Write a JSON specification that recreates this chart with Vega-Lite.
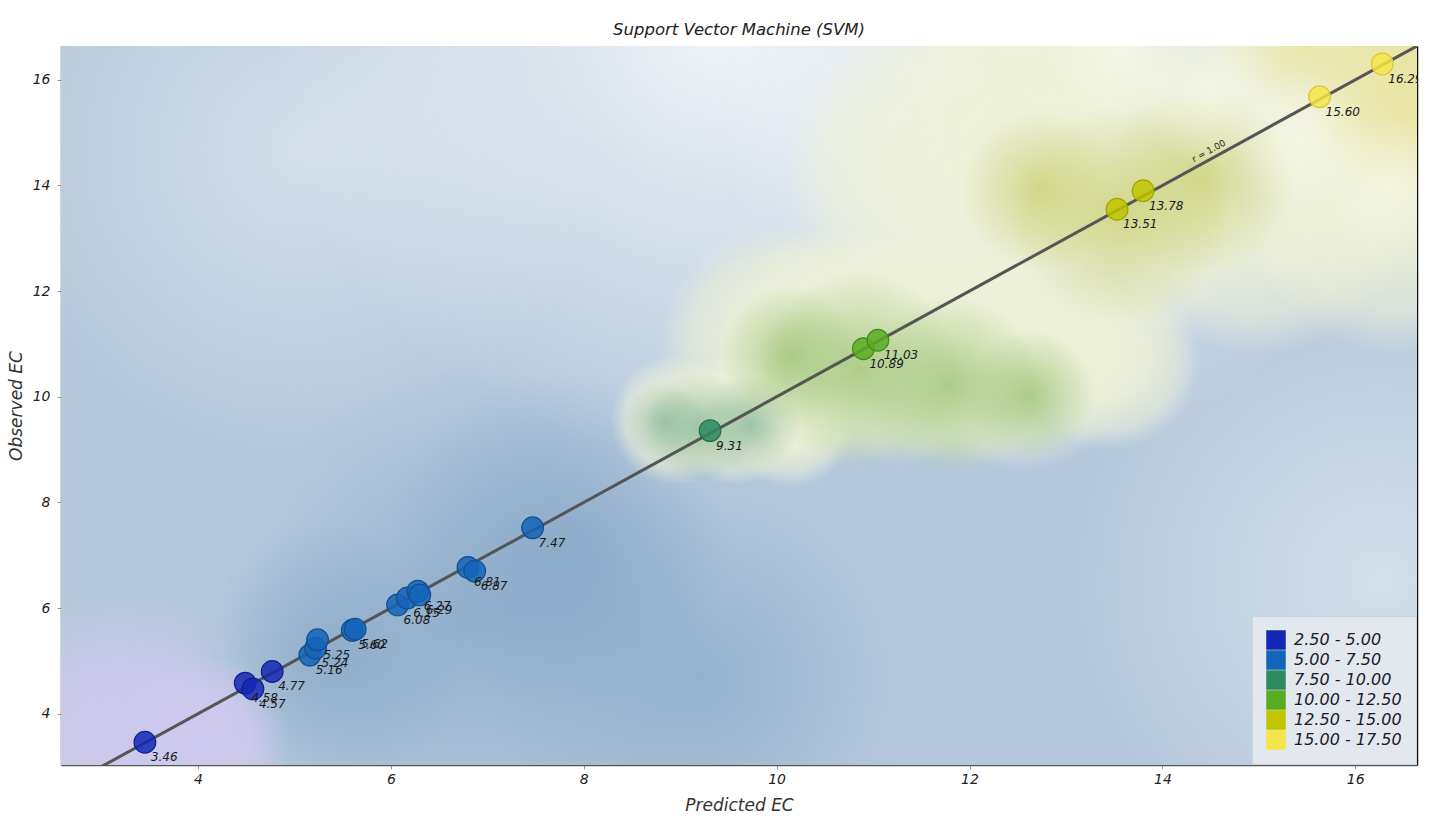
{
  "$schema": "https://vega.github.io/schema/vega-lite/v6.json",
  "width": 1356,
  "height": 719,
  "autosize": {"type": "none"},
  "padding": {"left": 61, "top": 46, "right": 14, "bottom": 53},
  "background": "white",
  "title": {"text": "Support Vector Machine (SVM)", "font": "DejaVu Sans", "fontStyle": "italic", "fontWeight": "normal", "fontSize": 16.5, "color": "#222222", "offset": 8},
  "config": {
    "view": {"stroke": null},
    "axis": {"labelFont": "DejaVu Sans", "titleFont": "DejaVu Sans", "labelFontStyle": "italic", "titleFontStyle": "italic", "titleFontWeight": "normal", "labelColor": "#222222", "titleColor": "#333333", "labelFontSize": 14, "titleFontSize": 17, "grid": false, "domainColor": "#555555", "domainWidth": 1.5, "tickColor": "#999999", "tickSize": 4},
    "legend": {"labelFont": "DejaVu Sans", "labelFontStyle": "italic"}
  },
  "datasets": {
    "blobs": [
      {"k": "base", "x1": 2.58, "x2": 16.64, "y1": 3.03, "y2": 16.64},
      {"k": "light2", "x1": 13.146, "x2": 19.367, "y1": 0.853, "y2": 12.211},
      {"k": "light2", "x1": 1.947, "x2": 8.169, "y1": 8.993, "y2": 20.35},
      {"k": "light", "x1": 4.747, "x2": 14.079, "y1": 8.614, "y2": 25.65},
      {"k": "light", "x1": 9.413, "x2": 16.257, "y1": 8.993, "y2": 21.486},
      {"k": "dark", "x1": 4.229, "x2": 9.413, "y1": 1.042, "y2": 10.507},
      {"k": "dark", "x1": 6.925, "x2": 11.487, "y1": 0.475, "y2": 8.803},
      {"k": "dark", "x1": 5.991, "x2": 9.517, "y1": 4.071, "y2": 10.507},
      {"k": "dark", "x1": 3.918, "x2": 6.821, "y1": 2.367, "y2": 7.668},
      {"k": "lavender", "x1": 1.533, "x2": 4.851, "y1": 0.096, "y2": 6.153},
      {"k": "lavender", "x1": 3.088, "x2": 4.954, "y1": 1.705, "y2": 5.112},
      {"k": "halo", "x1": 8.273, "x2": 9.621, "y1": 8.33, "y2": 10.791},
      {"k": "halo", "x1": 8.895, "x2": 10.243, "y1": 8.33, "y2": 10.791},
      {"k": "halo", "x1": 9.465, "x2": 10.813, "y1": 8.292, "y2": 10.753},
      {"k": "halo", "x1": 8.791, "x2": 11.28, "y1": 8.709, "y2": 13.252},
      {"k": "halo", "x1": 9.413, "x2": 11.902, "y1": 8.709, "y2": 13.252},
      {"k": "halo", "x1": 10.035, "x2": 12.524, "y1": 8.709, "y2": 13.252},
      {"k": "halo", "x1": 10.657, "x2": 13.146, "y1": 8.652, "y2": 13.195},
      {"k": "halo", "x1": 11.28, "x2": 13.768, "y1": 8.614, "y2": 13.157},
      {"k": "halo", "x1": 12.524, "x2": 14.39, "y1": 8.993, "y2": 12.4},
      {"k": "halo", "x1": 10.087, "x2": 13.405, "y1": 11.264, "y2": 17.321},
      {"k": "halo", "x1": 11.694, "x2": 15.012, "y1": 10.791, "y2": 16.848},
      {"k": "halo", "x1": 13.353, "x2": 16.671, "y1": 10.791, "y2": 16.848},
      {"k": "halo", "x1": 14.805, "x2": 18.123, "y1": 10.791, "y2": 16.848},
      {"k": "halo", "x1": 11.176, "x2": 14.494, "y1": 13.725, "y2": 19.782},
      {"k": "halo", "x1": 13.768, "x2": 17.086, "y1": 13.725, "y2": 19.782},
      {"k": "teal", "x1": 8.636, "x2": 9.776, "y1": 8.368, "y2": 10.45},
      {"k": "teal", "x1": 9.206, "x2": 10.243, "y1": 8.519, "y2": 10.412},
      {"k": "teal", "x1": 8.428, "x2": 9.258, "y1": 8.765, "y2": 10.28},
      {"k": "green", "x1": 9.828, "x2": 11.902, "y1": 8.614, "y2": 12.4},
      {"k": "green", "x1": 10.865, "x2": 12.731, "y1": 8.519, "y2": 11.927},
      {"k": "green", "x1": 9.413, "x2": 10.865, "y1": 9.466, "y2": 12.116},
      {"k": "green", "x1": 11.954, "x2": 13.302, "y1": 8.803, "y2": 11.264},
      {"k": "olive", "x1": 12.42, "x2": 14.701, "y1": 11.359, "y2": 15.523},
      {"k": "olive", "x1": 13.405, "x2": 15.375, "y1": 12.305, "y2": 15.902},
      {"k": "olive", "x1": 11.902, "x2": 13.561, "y1": 12.4, "y2": 15.429},
      {"k": "yellow", "x1": 15.168, "x2": 17.657, "y1": 14.198, "y2": 18.741},
      {"k": "yellow", "x1": 14.598, "x2": 16.257, "y1": 15.334, "y2": 18.362},
      {"k": "yellow", "x1": 15.5, "x2": 17.781, "y1": 13.346, "y2": 17.511},
      {"k": "band", "x1": 12.835, "x2": 14.287, "y1": 15.239, "y2": 17.889},
      {"k": "band", "x1": 13.768, "x2": 15.22, "y1": 14.387, "y2": 17.037},
      {"k": "band", "x1": 14.701, "x2": 16.153, "y1": 13.536, "y2": 16.186},
      {"k": "band", "x1": 15.635, "x2": 17.086, "y1": 12.684, "y2": 15.334}
    ],
    "points": [
      {"pred": 3.45, "obs": 3.46, "label": "3.46", "cls": "2.50 - 5.00"},
      {"pred": 4.49, "obs": 4.58, "label": "4.58", "cls": "2.50 - 5.00"},
      {"pred": 4.57, "obs": 4.47, "label": "4.57", "cls": "2.50 - 5.00"},
      {"pred": 4.77, "obs": 4.8, "label": "4.77", "cls": "2.50 - 5.00"},
      {"pred": 5.16, "obs": 5.11, "label": "5.16", "cls": "5.00 - 7.50"},
      {"pred": 5.22, "obs": 5.24, "label": "5.24", "cls": "5.00 - 7.50"},
      {"pred": 5.24, "obs": 5.4, "label": "5.25", "cls": "5.00 - 7.50"},
      {"pred": 5.6, "obs": 5.58, "label": "5.60", "cls": "5.00 - 7.50"},
      {"pred": 5.63, "obs": 5.6, "label": "5.62", "cls": "5.00 - 7.50"},
      {"pred": 6.07, "obs": 6.06, "label": "6.08", "cls": "5.00 - 7.50"},
      {"pred": 6.17, "obs": 6.19, "label": "6.15", "cls": "5.00 - 7.50"},
      {"pred": 6.28, "obs": 6.32, "label": "6.27", "cls": "5.00 - 7.50"},
      {"pred": 6.3, "obs": 6.25, "label": "6.29", "cls": "5.00 - 7.50"},
      {"pred": 6.8, "obs": 6.77, "label": "6.81", "cls": "5.00 - 7.50"},
      {"pred": 6.87, "obs": 6.7, "label": "6.87", "cls": "5.00 - 7.50"},
      {"pred": 7.47, "obs": 7.52, "label": "7.47", "cls": "5.00 - 7.50"},
      {"pred": 9.31, "obs": 9.36, "label": "9.31", "cls": "7.50 - 10.00"},
      {"pred": 10.9, "obs": 10.91, "label": "10.89", "cls": "10.00 - 12.50"},
      {"pred": 11.05, "obs": 11.07, "label": "11.03", "cls": "10.00 - 12.50"},
      {"pred": 13.53, "obs": 13.55, "label": "13.51", "cls": "12.50 - 15.00"},
      {"pred": 13.8, "obs": 13.9, "label": "13.78", "cls": "12.50 - 15.00"},
      {"pred": 15.63, "obs": 15.68, "label": "15.60", "cls": "15.00 - 17.50"},
      {"pred": 16.28, "obs": 16.3, "label": "16.29", "cls": "15.00 - 17.50"}
    ],
    "fit": [
      {"pred": 2.5, "obs": 2.5},
      {"pred": 17, "obs": 17}
    ],
    "rlabel": [
      {"pred": 14.52, "obs": 14.52, "t": "r = 1.00"}
    ]
  },
  "resolve": {"axis": {"y": "independent"}},
  "layer": [
    {
      "data": {"name": "blobs"},
      "transform": [{"filter": "datum.k == 'base'"}],
      "mark": {"type": "rect", "fill": "#b6c9dc", "clip": true},
      "encoding": {
        "x": {"field": "x1", "type": "quantitative", "scale": {"domain": [2.58, 16.64], "nice": false, "zero": false}, "axis": {"title": "Predicted EC", "values": [4, 6, 8, 10, 12, 14, 16], "format": "d", "labelPadding": 3, "titlePadding": 11}},
        "x2": {"field": "x2"},
        "y": {"field": "y1", "type": "quantitative", "scale": {"domain": [3.03, 16.64], "nice": false, "zero": false}, "axis": {"title": "Observed EC", "values": [4, 6, 8, 10, 12, 14, 16], "format": "d", "labelPadding": 7, "titlePadding": 7}},
        "y2": {"field": "y2"}
      }
    },
    {
      "data": {"name": "blobs"},
      "transform": [{"filter": "datum.k == 'light2'"}],
      "mark": {"type": "rect", "clip": true, "fill": {"gradient": "radial", "x1": 0.5, "y1": 0.5, "r1": 0, "x2": 0.5, "y2": 0.5, "r2": 0.5, "stops": [{"offset": 0, "color": "rgba(255,255,255,0.4)"}, {"offset": 1, "color": "rgba(255,255,255,0)"}]}},
      "encoding": {"x": {"field": "x1", "type": "quantitative"}, "x2": {"field": "x2"}, "y": {"field": "y1", "type": "quantitative", "axis": null}, "y2": {"field": "y2"}}
    },
    {
      "data": {"name": "blobs"},
      "transform": [{"filter": "datum.k == 'light'"}],
      "mark": {"type": "rect", "clip": true, "fill": {"gradient": "radial", "x1": 0.5, "y1": 0.5, "r1": 0, "x2": 0.5, "y2": 0.5, "r2": 0.5, "stops": [{"offset": 0, "color": "rgba(255,255,255,0.8)"}, {"offset": 1, "color": "rgba(255,255,255,0)"}]}},
      "encoding": {"x": {"field": "x1", "type": "quantitative"}, "x2": {"field": "x2"}, "y": {"field": "y1", "type": "quantitative", "axis": null}, "y2": {"field": "y2"}}
    },
    {
      "data": {"name": "blobs"},
      "transform": [{"filter": "datum.k == 'dark'"}],
      "mark": {"type": "rect", "clip": true, "fill": {"gradient": "radial", "x1": 0.5, "y1": 0.5, "r1": 0, "x2": 0.5, "y2": 0.5, "r2": 0.5, "stops": [{"offset": 0, "color": "rgba(122,159,194,0.55)"}, {"offset": 1, "color": "rgba(122,159,194,0)"}]}},
      "encoding": {"x": {"field": "x1", "type": "quantitative"}, "x2": {"field": "x2"}, "y": {"field": "y1", "type": "quantitative", "axis": null}, "y2": {"field": "y2"}}
    },
    {
      "data": {"name": "blobs"},
      "transform": [{"filter": "datum.k == 'lavender'"}],
      "mark": {"type": "rect", "clip": true, "fill": {"gradient": "radial", "x1": 0.5, "y1": 0.5, "r1": 0, "x2": 0.5, "y2": 0.5, "r2": 0.5, "stops": [{"offset": 0, "color": "rgba(206,201,238,0.95)"}, {"offset": 0.55, "color": "rgba(206,201,238,0.85)"}, {"offset": 1, "color": "rgba(206,201,238,0)"}]}},
      "encoding": {"x": {"field": "x1", "type": "quantitative"}, "x2": {"field": "x2"}, "y": {"field": "y1", "type": "quantitative", "axis": null}, "y2": {"field": "y2"}}
    },
    {
      "data": {"name": "blobs"},
      "transform": [{"filter": "datum.k == 'halo'"}],
      "mark": {"type": "rect", "clip": true, "fill": {"gradient": "radial", "x1": 0.5, "y1": 0.5, "r1": 0, "x2": 0.5, "y2": 0.5, "r2": 0.5, "stops": [{"offset": 0, "color": "rgba(238,241,216,0.92)"}, {"offset": 0.4, "color": "rgba(238,241,216,0.86)"}, {"offset": 0.75, "color": "rgba(238,241,216,0.55)"}, {"offset": 1, "color": "rgba(238,241,216,0)"}]}},
      "encoding": {"x": {"field": "x1", "type": "quantitative"}, "x2": {"field": "x2"}, "y": {"field": "y1", "type": "quantitative", "axis": null}, "y2": {"field": "y2"}}
    },
    {
      "data": {"name": "blobs"},
      "transform": [{"filter": "datum.k == 'teal'"}],
      "mark": {"type": "rect", "clip": true, "fill": {"gradient": "radial", "x1": 0.5, "y1": 0.5, "r1": 0, "x2": 0.5, "y2": 0.5, "r2": 0.5, "stops": [{"offset": 0, "color": "rgba(150,190,160,0.9)"}, {"offset": 1, "color": "rgba(150,190,160,0)"}]}},
      "encoding": {"x": {"field": "x1", "type": "quantitative"}, "x2": {"field": "x2"}, "y": {"field": "y1", "type": "quantitative", "axis": null}, "y2": {"field": "y2"}}
    },
    {
      "data": {"name": "blobs"},
      "transform": [{"filter": "datum.k == 'green'"}],
      "mark": {"type": "rect", "clip": true, "fill": {"gradient": "radial", "x1": 0.5, "y1": 0.5, "r1": 0, "x2": 0.5, "y2": 0.5, "r2": 0.5, "stops": [{"offset": 0, "color": "rgba(160,198,122,0.85)"}, {"offset": 1, "color": "rgba(160,198,122,0)"}]}},
      "encoding": {"x": {"field": "x1", "type": "quantitative"}, "x2": {"field": "x2"}, "y": {"field": "y1", "type": "quantitative", "axis": null}, "y2": {"field": "y2"}}
    },
    {
      "data": {"name": "blobs"},
      "transform": [{"filter": "datum.k == 'olive'"}],
      "mark": {"type": "rect", "clip": true, "fill": {"gradient": "radial", "x1": 0.5, "y1": 0.5, "r1": 0, "x2": 0.5, "y2": 0.5, "r2": 0.5, "stops": [{"offset": 0, "color": "rgba(206,212,130,0.9)"}, {"offset": 1, "color": "rgba(206,212,130,0)"}]}},
      "encoding": {"x": {"field": "x1", "type": "quantitative"}, "x2": {"field": "x2"}, "y": {"field": "y1", "type": "quantitative", "axis": null}, "y2": {"field": "y2"}}
    },
    {
      "data": {"name": "blobs"},
      "transform": [{"filter": "datum.k == 'yellow'"}],
      "mark": {"type": "rect", "clip": true, "fill": {"gradient": "radial", "x1": 0.5, "y1": 0.5, "r1": 0, "x2": 0.5, "y2": 0.5, "r2": 0.5, "stops": [{"offset": 0, "color": "rgba(235,229,156,0.8)"}, {"offset": 1, "color": "rgba(235,229,156,0)"}]}},
      "encoding": {"x": {"field": "x1", "type": "quantitative"}, "x2": {"field": "x2"}, "y": {"field": "y1", "type": "quantitative", "axis": null}, "y2": {"field": "y2"}}
    },
    {
      "data": {"name": "blobs"},
      "transform": [{"filter": "datum.k == 'band'"}],
      "mark": {"type": "rect", "clip": true, "fill": {"gradient": "radial", "x1": 0.5, "y1": 0.5, "r1": 0, "x2": 0.5, "y2": 0.5, "r2": 0.5, "stops": [{"offset": 0, "color": "rgba(250,250,238,0.55)"}, {"offset": 1, "color": "rgba(250,250,238,0)"}]}},
      "encoding": {"x": {"field": "x1", "type": "quantitative"}, "x2": {"field": "x2"}, "y": {"field": "y1", "type": "quantitative", "axis": null}, "y2": {"field": "y2"}}
    },
    {
      "data": {"name": "fit"},
      "mark": {"type": "line", "color": "#555555", "strokeWidth": 3, "clip": true},
      "encoding": {"x": {"field": "pred", "type": "quantitative"}, "y": {"field": "obs", "type": "quantitative", "axis": {"orient": "right", "labels": false, "ticks": false, "title": null, "domainColor": "#111111", "domainWidth": 1.5}}}
    },
    {
      "data": {"name": "points"},
      "mark": {"type": "circle", "size": 470, "fillOpacity": 0.85, "strokeWidth": 1.2, "opacity": 1},
      "encoding": {
        "x": {"field": "pred", "type": "quantitative"},
        "y": {"field": "obs", "type": "quantitative", "axis": null},
        "color": {"field": "cls", "type": "nominal", "scale": {"domain": ["2.50 - 5.00", "5.00 - 7.50", "7.50 - 10.00", "10.00 - 12.50", "12.50 - 15.00", "15.00 - 17.50"], "range": ["#1428b4", "#1464b8", "#2d8a62", "#5aab22", "#c0c500", "#f6e54a"]},
          "legend": {"title": null, "orient": "bottom-right", "offset": 1, "symbolType": "square", "symbolSize": 380, "symbolOpacity": 1, "symbolStrokeWidth": 0, "labelFontSize": 16, "labelColor": "#1a1a2a", "labelOffset": 8, "rowPadding": 0, "padding": 14, "fillColor": "#e3e8ee", "strokeColor": "#cdd3da"}},
        "stroke": {"field": "cls", "type": "nominal", "scale": {"domain": ["2.50 - 5.00", "5.00 - 7.50", "7.50 - 10.00", "10.00 - 12.50", "12.50 - 15.00", "15.00 - 17.50"], "range": ["#102090", "#10508f", "#22704d", "#458a18", "#a0a400", "#d8c63a"]}, "legend": null}
      }
    },
    {
      "data": {"name": "points"},
      "mark": {"type": "text", "align": "left", "baseline": "middle", "dx": 6, "dy": 15, "font": "DejaVu Sans", "fontStyle": "italic", "fontSize": 12, "color": "#1a1a1a", "clip": true},
      "encoding": {
        "x": {"field": "pred", "type": "quantitative"},
        "y": {"field": "obs", "type": "quantitative", "axis": null},
        "text": {"field": "label"}
      }
    },
    {
      "data": {"name": "rlabel"},
      "mark": {"type": "text", "align": "center", "baseline": "bottom", "dy": -3, "angle": -28.7, "font": "DejaVu Sans", "fontSize": 9, "color": "#222222"},
      "encoding": {
        "x": {"field": "pred", "type": "quantitative"},
        "y": {"field": "obs", "type": "quantitative", "axis": null},
        "text": {"field": "t"}
      }
    }
  ]
}
